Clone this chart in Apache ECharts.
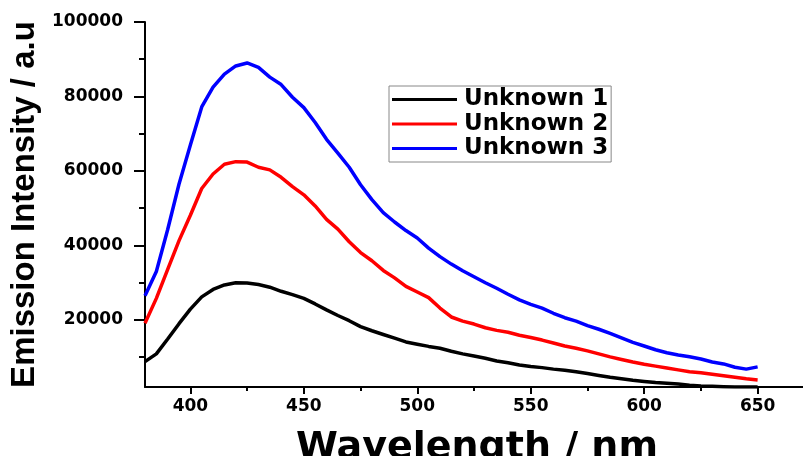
<!DOCTYPE html>
<html>
<head>
<meta charset="utf-8">
<script src="https://cdn.jsdelivr.net/npm/echarts@6/dist/echarts.min.js"></script>
<style>
html, body { margin: 0; padding: 0; background: #fff; }
#emission-chart { width: 803px; height: 456px; }
</style>
</head>
<body>
<div id="emission-chart"></div>
<script>
// 波长 (nm)
var wavelength = [380, 385, 390, 395, 400, 405, 410, 415, 420, 425, 430, 435, 440, 445, 450, 455, 460, 465, 470, 475,
    480, 485, 490, 495, 500, 505, 510, 515, 520, 525, 530, 535, 540, 545, 550, 555, 560, 565, 570, 575,
    580, 585, 590, 595, 600, 605, 610, 615, 620, 625, 630, 635, 640, 645, 650];

var unknown1 = [8800, 10900, 14900, 19000, 22900, 26200, 28200, 29400, 30000, 29900, 29500, 28800, 27700, 26800, 25800, 24300, 22700, 21200, 19800, 18200,
    17100, 16100, 15100, 14100, 13500, 12900, 12400, 11600, 10900, 10300, 9700, 9000, 8500, 7900, 7500, 7200, 6800, 6500, 6100, 5600,
    5100, 4600, 4200, 3800, 3500, 3200, 3000, 2800, 2500, 2300, 2200, 2100, 2000, 2000, 2000];

var unknown2 = [19100, 25800, 33600, 41300, 48100, 55300, 59200, 61800, 62500, 62400, 61000, 60300, 58300, 55800, 53600, 50600, 47000, 44400, 41000, 38100,
    35900, 33300, 31300, 29000, 27500, 26000, 23200, 20800, 19700, 18900, 17900, 17200, 16700, 15900, 15300, 14600, 13800, 13000, 12400, 11700,
    10900, 10100, 9400, 8700, 8100, 7600, 7100, 6600, 6100, 5800, 5400, 5000, 4600, 4200, 3900];

var unknown3 = [26500, 33000, 44300, 56500, 67000, 77200, 82500, 86000, 88200, 89000, 87800, 85200, 83200, 79800, 77000, 73000, 68500, 64800, 61000, 56300,
    52300, 48800, 46300, 44000, 42000, 39300, 37000, 35000, 33200, 31600, 30000, 28500, 26900, 25400, 24200, 23200, 21800, 20600, 19700, 18500,
    17500, 16400, 15200, 14000, 13000, 12000, 11200, 10600, 10100, 9500, 8700, 8200, 7300, 6800, 7400];

var xLabels = [400, 450, 500, 550, 600, 650];
var xMinorTicks = [425, 475, 525, 575, 625];
var yLabels = [20000, 40000, 60000, 80000, 100000];
var yMinorTicks = [10000, 30000, 50000, 70000, 90000];

function pairs(ys) {
    return wavelength.map(function (w, i) { return [w, ys[i]]; });
}

var myChart = echarts.init(document.getElementById('emission-chart'));

var labelFont = {
    color: '#000',
    fontFamily: 'DejaVu Sans',
    fontWeight: 'bold',
    fontSize: 17,
    formatter: function (v) { return String(v); }
};

var option = {
    backgroundColor: '#fff',
    animation: false,
    grid: { left: 145, right: 0, top: 22, bottom: 69, containLabel: false, outerBoundsMode: 'none' },
    legend: {
        orient: 'vertical',
        left: 389,
        top: 86,
        padding: [2, 3, 2, 3],
        itemGap: 1.5,
        itemWidth: 65,
        itemHeight: 3,
        icon: 'rect',
        borderColor: '#888',
        borderWidth: 1,
        textStyle: {
            color: '#000',
            fontFamily: 'DejaVu Sans',
            fontWeight: 'bold',
            fontSize: 23,
            lineHeight: 22,
            padding: [0, 0, 0, 2]
        },
        data: ['Unknown 1', 'Unknown 2', 'Unknown 3']
    },
    xAxis: [
        {
            type: 'value',
            min: 380,
            max: 670,
            name: 'Wavelength / nm',
            nameLocation: 'middle',
            nameGap: 42,
            nameTextStyle: {
                color: '#000',
                fontFamily: 'DejaVu Sans',
                fontWeight: 'bold',
                fontSize: 38,
                padding: [0, 0, 0, 6]
            },
            axisLine: { lineStyle: { color: '#000', width: 2 } },
            axisTick: { customValues: xLabels, length: 7, lineStyle: { color: '#000', width: 2 } },
            axisLabel: Object.assign({ customValues: xLabels, margin: 11 }, labelFont),
            splitLine: { show: false }
        },
        {
            // 次刻度
            type: 'value',
            min: 380,
            max: 670,
            position: 'bottom',
            axisLine: { show: false },
            axisTick: { customValues: xMinorTicks, length: 4, lineStyle: { color: '#000', width: 2 } },
            axisLabel: { show: false },
            splitLine: { show: false }
        }
    ],
    yAxis: [
        {
            type: 'value',
            min: 2000,
            max: 100000,
            name: 'Emission Intensity / a.u',
            nameLocation: 'middle',
            nameGap: 92,
            nameTextStyle: {
                color: '#000',
                fontFamily: 'Liberation Sans',
                fontWeight: 'bold',
                fontSize: 33
            },
            axisLine: { show: true, lineStyle: { color: '#000', width: 2 } },
            axisTick: { show: true, customValues: yLabels, length: 11, lineStyle: { color: '#000', width: 2 } },
            axisLabel: Object.assign({ customValues: yLabels, margin: 22 }, labelFont),
            splitLine: { show: false }
        },
        {
            // 次刻度
            type: 'value',
            min: 2000,
            max: 100000,
            position: 'left',
            axisLine: { show: false },
            axisTick: { show: true, customValues: yMinorTicks, length: 6, lineStyle: { color: '#000', width: 2 } },
            axisLabel: { show: false },
            splitLine: { show: false }
        }
    ],
    series: [
        {
            name: 'Unknown 1',
            type: 'line',
            symbol: 'none',
            color: '#000000',
            lineStyle: { width: 3.5, color: '#000000' },
            data: pairs(unknown1)
        },
        {
            name: 'Unknown 2',
            type: 'line',
            symbol: 'none',
            color: '#ff0000',
            lineStyle: { width: 3.5, color: '#ff0000' },
            data: pairs(unknown2)
        },
        {
            name: 'Unknown 3',
            type: 'line',
            symbol: 'none',
            color: '#0000ff',
            lineStyle: { width: 3.5, color: '#0000ff' },
            data: pairs(unknown3)
        }
    ]
};

myChart.setOption(option);
</script>
</body>
</html>
